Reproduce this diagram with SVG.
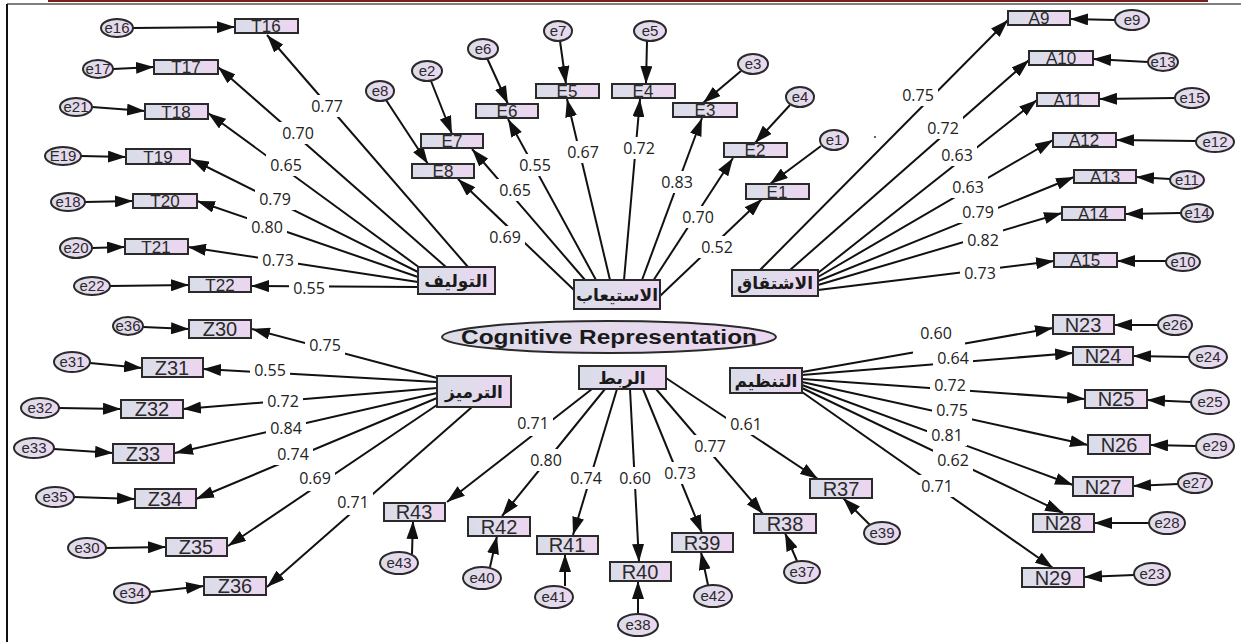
<svg xmlns="http://www.w3.org/2000/svg" width="1241" height="642" viewBox="0 0 1241 642">
<defs>
<linearGradient id="gb" x1="0" y1="0" x2="1" y2="0"><stop offset="0" stop-color="#d9dce9"/><stop offset="0.45" stop-color="#e1dcec"/><stop offset="1" stop-color="#edd5f0"/></linearGradient>
<linearGradient id="ge" x1="0" y1="0" x2="1" y2="0"><stop offset="0" stop-color="#dcdde9"/><stop offset="1" stop-color="#ecd7f0"/></linearGradient>
<marker id="ah" viewBox="0 0 18 12" refX="18" refY="6" markerWidth="18" markerHeight="12" markerUnits="userSpaceOnUse" orient="auto"><path d="M0,0L18,6L0,12z" fill="#111"/></marker>
<style>
.b{stroke:#2a2a2a;stroke-width:2;fill:url(#gb)}
.e{stroke:#2a2a2a;stroke-width:2;fill:url(#ge)}
.t{font-family:"Liberation Sans",Arial,sans-serif;font-size:17px;fill:#2a2a2a;text-anchor:middle}
.t2{font-family:"Liberation Sans",Arial,sans-serif;font-size:20px;fill:#2a2a2a;text-anchor:middle}
.et{font-family:"Liberation Sans",Arial,sans-serif;font-size:15px;fill:#2a2a2a;text-anchor:middle}
.fa{font-family:"DejaVu Sans","Noto Sans",sans-serif;font-size:17px;font-weight:bold;fill:#1a1a1a;text-anchor:middle}
.cr{font-family:"Liberation Sans",Arial,sans-serif;font-size:20px;font-weight:bold;fill:#1a1a1a;text-anchor:middle}
.c line,.c path{stroke:#111;stroke-width:2;fill:none;marker-end:url(#ah)}
.lb rect{fill:#fff}
.lb text{font-family:"Open Sans","Liberation Sans",sans-serif;font-size:16px;fill:#222;text-anchor:middle}
</style>
</defs>
<rect width="1241" height="642" fill="#fff"/>
<g id="frame">
<rect x="48" y="0" width="1160" height="2" fill="#7a1f1f"/>
<line x1="7" y1="4" x2="1241" y2="4" stroke="#555" stroke-width="1.5"/>
<line x1="7" y1="4" x2="7" y2="642" stroke="#111" stroke-width="2"/>
</g>
<g id="connectors" class="c">
<line x1="468" y1="267" x2="267" y2="35"/>
<line x1="446" y1="267" x2="218" y2="67"/>
<line x1="420" y1="268" x2="208" y2="113"/>
<line x1="418" y1="272" x2="191" y2="159"/>
<line x1="418" y1="277" x2="197" y2="201"/>
<line x1="418" y1="282" x2="188" y2="247"/>
<line x1="418" y1="287" x2="251" y2="286"/>
<line x1="133" y1="28" x2="235" y2="27"/>
<line x1="113" y1="69" x2="154" y2="67"/>
<line x1="92" y1="107" x2="145" y2="111"/>
<line x1="81" y1="156" x2="126" y2="157"/>
<line x1="85" y1="202" x2="133" y2="201"/>
<line x1="92" y1="248" x2="125" y2="247"/>
<line x1="110" y1="286" x2="189" y2="285"/>
<line x1="574" y1="290" x2="458" y2="179"/>
<line x1="585" y1="280" x2="472" y2="149"/>
<line x1="596" y1="280" x2="508" y2="119"/>
<line x1="610" y1="280" x2="567" y2="99"/>
<line x1="624" y1="280" x2="640" y2="99"/>
<line x1="642" y1="280" x2="702" y2="118"/>
<line x1="653" y1="281" x2="733" y2="158"/>
<line x1="660" y1="296" x2="762" y2="199"/>
<line x1="431" y1="81" x2="452" y2="134"/>
<line x1="386" y1="100" x2="428" y2="164"/>
<line x1="487" y1="58" x2="508" y2="104"/>
<line x1="560" y1="41" x2="566" y2="84"/>
<line x1="647" y1="41" x2="646" y2="84"/>
<line x1="741" y1="71" x2="703" y2="103"/>
<line x1="790" y1="105" x2="755" y2="143"/>
<line x1="821" y1="146" x2="770" y2="184"/>
<line x1="760" y1="270" x2="1008" y2="20"/>
<line x1="790" y1="270" x2="1029" y2="60"/>
<line x1="818" y1="273" x2="1037" y2="100"/>
<line x1="818" y1="277" x2="1053" y2="140"/>
<line x1="818" y1="281" x2="1074" y2="177"/>
<line x1="818" y1="285" x2="1062" y2="213"/>
<line x1="818" y1="290" x2="1054" y2="261"/>
<line x1="1115" y1="20" x2="1070" y2="19"/>
<line x1="1148" y1="62" x2="1093" y2="59"/>
<line x1="1175" y1="98" x2="1099" y2="99"/>
<line x1="1196" y1="141" x2="1116" y2="140"/>
<line x1="1170" y1="179" x2="1136" y2="177"/>
<line x1="1181" y1="213" x2="1125" y2="214"/>
<line x1="1166" y1="261" x2="1117" y2="261"/>
<line x1="437" y1="378" x2="252" y2="329"/>
<line x1="437" y1="382" x2="203" y2="369"/>
<line x1="437" y1="388" x2="183" y2="409"/>
<line x1="437" y1="393" x2="175" y2="453"/>
<line x1="437" y1="398" x2="196" y2="499"/>
<line x1="437" y1="405" x2="228" y2="546"/>
<line x1="472" y1="407" x2="267" y2="587"/>
<line x1="143" y1="327" x2="189" y2="329"/>
<line x1="90" y1="363" x2="142" y2="368"/>
<line x1="59" y1="408" x2="121" y2="409"/>
<line x1="54" y1="449" x2="113" y2="453"/>
<line x1="74" y1="497" x2="135" y2="499"/>
<line x1="106" y1="548" x2="166" y2="547"/>
<line x1="150" y1="592" x2="204" y2="586"/>
<line x1="592" y1="389" x2="447" y2="502"/>
<line x1="605" y1="389" x2="502" y2="516"/>
<line x1="617" y1="389" x2="573" y2="535"/>
<line x1="630" y1="389" x2="639" y2="562"/>
<line x1="643" y1="389" x2="702" y2="533"/>
<line x1="656" y1="389" x2="763" y2="514"/>
<line x1="666" y1="378" x2="818" y2="479"/>
<line x1="412" y1="554" x2="413" y2="521"/>
<line x1="490" y1="567" x2="497" y2="536"/>
<line x1="565" y1="586" x2="565" y2="554"/>
<line x1="638" y1="613" x2="638" y2="581"/>
<line x1="708" y1="585" x2="701" y2="552"/>
<line x1="797" y1="561" x2="785" y2="533"/>
<line x1="870" y1="525" x2="843" y2="498"/>
<path d="M802,372L913,352.5M965,343.4L1053,328"/>
<line x1="802" y1="375" x2="1073" y2="353"/>
<line x1="802" y1="379" x2="1085" y2="399"/>
<line x1="802" y1="382" x2="1088" y2="445"/>
<line x1="802" y1="385" x2="1073" y2="485"/>
<line x1="802" y1="388" x2="1063" y2="513"/>
<line x1="802" y1="392" x2="1053" y2="568"/>
<line x1="1158" y1="325" x2="1114" y2="325"/>
<line x1="1189" y1="357" x2="1133" y2="356"/>
<line x1="1191" y1="402" x2="1147" y2="400"/>
<line x1="1196" y1="446" x2="1150" y2="445"/>
<line x1="1178" y1="484" x2="1133" y2="486"/>
<line x1="1149" y1="523" x2="1094" y2="523"/>
<line x1="1134" y1="575" x2="1084" y2="577"/>
</g>
<g id="labels" class="lb">
<g><rect x="307" y="95" width="40" height="22"/><text x="327" y="112">0.77</text></g>
<g><rect x="278" y="122" width="40" height="22"/><text x="298" y="139">0.70</text></g>
<g><rect x="266" y="154" width="40" height="22"/><text x="286" y="171">0.65</text></g>
<g><rect x="255" y="188" width="40" height="22"/><text x="275" y="205">0.79</text></g>
<g><rect x="247" y="216" width="40" height="22"/><text x="267" y="233">0.80</text></g>
<g><rect x="258" y="249" width="40" height="22"/><text x="278" y="266">0.73</text></g>
<g><rect x="289" y="277" width="40" height="22"/><text x="309" y="294">0.55</text></g>
<g><rect x="485" y="226" width="40" height="22"/><text x="505" y="243">0.69</text></g>
<g><rect x="495" y="179" width="40" height="22"/><text x="515" y="196">0.65</text></g>
<g><rect x="515" y="154" width="40" height="22"/><text x="535" y="171">0.55</text></g>
<g><rect x="563" y="141" width="40" height="22"/><text x="583" y="158">0.67</text></g>
<g><rect x="619" y="137" width="40" height="22"/><text x="639" y="154">0.72</text></g>
<g><rect x="657" y="171" width="40" height="22"/><text x="677" y="188">0.83</text></g>
<g><rect x="678" y="206" width="40" height="22"/><text x="698" y="223">0.70</text></g>
<g><rect x="697" y="236" width="40" height="22"/><text x="717" y="253">0.52</text></g>
<g><rect x="898" y="84" width="40" height="22"/><text x="918" y="101">0.75</text></g>
<g><rect x="923" y="117" width="40" height="22"/><text x="943" y="134">0.72</text></g>
<g><rect x="937" y="144" width="40" height="22"/><text x="957" y="161">0.63</text></g>
<g><rect x="948" y="176" width="40" height="22"/><text x="968" y="193">0.63</text></g>
<g><rect x="958" y="201" width="40" height="22"/><text x="978" y="218">0.79</text></g>
<g><rect x="963" y="229" width="40" height="22"/><text x="983" y="246">0.82</text></g>
<g><rect x="960" y="262" width="40" height="22"/><text x="980" y="279">0.73</text></g>
<g><rect x="305" y="334" width="40" height="22"/><text x="325" y="351">0.75</text></g>
<g><rect x="250" y="359" width="40" height="22"/><text x="270" y="376">0.55</text></g>
<g><rect x="263" y="390" width="40" height="22"/><text x="283" y="407">0.72</text></g>
<g><rect x="266" y="417" width="40" height="22"/><text x="286" y="434">0.84</text></g>
<g><rect x="273" y="443" width="40" height="22"/><text x="293" y="460">0.74</text></g>
<g><rect x="295" y="469" width="40" height="22"/><text x="315" y="484">0.69</text></g>
<g><rect x="333" y="493" width="40" height="22"/><text x="353" y="508">0.71</text></g>
<g><rect x="513" y="414" width="40" height="22"/><text x="533" y="429">0.71</text></g>
<g><rect x="526" y="449" width="40" height="22"/><text x="546" y="466">0.80</text></g>
<g><rect x="566" y="467" width="40" height="22"/><text x="586" y="484">0.74</text></g>
<g><rect x="615" y="467" width="40" height="22"/><text x="635" y="484">0.60</text></g>
<g><rect x="660" y="462" width="40" height="22"/><text x="680" y="479">0.73</text></g>
<g><rect x="690" y="435" width="40" height="22"/><text x="710" y="452">0.77</text></g>
<g><rect x="726" y="413" width="40" height="22"/><text x="746" y="430">0.61</text></g>
<g><text x="936" y="339">0.60</text></g>
<g><rect x="933" y="347" width="40" height="22"/><text x="953" y="364">0.64</text></g>
<g><rect x="930" y="374" width="40" height="22"/><text x="950" y="391">0.72</text></g>
<g><rect x="932" y="399" width="40" height="22"/><text x="952" y="416">0.75</text></g>
<g><rect x="927" y="424" width="40" height="22"/><text x="947" y="441">0.81</text></g>
<g><rect x="933" y="449" width="40" height="22"/><text x="953" y="466">0.62</text></g>
<g><rect x="917" y="475" width="40" height="22"/><text x="937" y="492">0.71</text></g>
</g>
<circle cx="875" cy="137" r="1" fill="#333"/>
<g id="latent">
<g id="cognitive"><ellipse class="e" cx="609" cy="337" rx="167" ry="16"/><text class="cr" x="609" y="344" textLength="296" lengthAdjust="spacingAndGlyphs">Cognitive Representation</text></g>
<g id="f-tawlif"><rect class="b" x="418" y="267" width="77" height="27"/><text class="fa" x="456" y="287">التوليف</text></g>
<g id="f-istiab"><rect class="b" x="574" y="280" width="86" height="29"/><text class="fa" x="617" y="301">الاستيعاب</text></g>
<g id="f-ishtiqaq"><rect class="b" x="732" y="270" width="86" height="26"/><text class="fa" x="775" y="289">الاشتقاق</text></g>
<g id="f-tarmiz"><rect class="b" x="437" y="376" width="74" height="31"/><text class="fa" x="474" y="398">الترميز</text></g>
<g id="f-rabt"><rect class="b" x="579" y="366" width="87" height="23"/><text class="fa" x="622" y="384">الربط</text></g>
<g id="f-tanzim"><rect class="b" x="730" y="368" width="72" height="25"/><text class="fa" x="766" y="387">التنظيم</text></g>
</g>
<g id="indicators">
<g id="T16"><rect class="b" x="235" y="19" width="63" height="14"/><text class="t" x="266" y="32">T16</text></g>
<g id="T17"><rect class="b" x="154" y="60" width="64" height="14"/><text class="t" x="186" y="73">T17</text></g>
<g id="T18"><rect class="b" x="145" y="104" width="63" height="15"/><text class="t" x="176" y="118">T18</text></g>
<g id="T19"><rect class="b" x="126" y="149" width="64" height="15"/><text class="t" x="158" y="163">T19</text></g>
<g id="T20"><rect class="b" x="133" y="194" width="64" height="14"/><text class="t" x="165" y="207">T20</text></g>
<g id="T21"><rect class="b" x="125" y="239" width="63" height="15"/><text class="t" x="156" y="253">T21</text></g>
<g id="T22"><rect class="b" x="189" y="277" width="62" height="15"/><text class="t" x="220" y="291">T22</text></g>
<g id="E7"><rect class="b" x="421" y="134" width="62" height="14"/><text class="t" x="452" y="147">E7</text></g>
<g id="E8"><rect class="b" x="412" y="164" width="62" height="14"/><text class="t" x="443" y="177">E8</text></g>
<g id="E6"><rect class="b" x="476" y="104" width="62" height="14"/><text class="t" x="507" y="117">E6</text></g>
<g id="E5"><rect class="b" x="536" y="84" width="63" height="14"/><text class="t" x="567" y="97">E5</text></g>
<g id="E4"><rect class="b" x="612" y="84" width="63" height="14"/><text class="t" x="643" y="97">E4</text></g>
<g id="E3"><rect class="b" x="673" y="103" width="64" height="14"/><text class="t" x="705" y="116">E3</text></g>
<g id="E2"><rect class="b" x="724" y="143" width="63" height="14"/><text class="t" x="755" y="156">E2</text></g>
<g id="E1"><rect class="b" x="746" y="184" width="63" height="15"/><text class="t" x="777" y="198">E1</text></g>
<g id="A9"><rect class="b" x="1008" y="11" width="62" height="14"/><text class="t" x="1039" y="24">A9</text></g>
<g id="A10"><rect class="b" x="1029" y="51" width="64" height="14"/><text class="t" x="1061" y="64">A10</text></g>
<g id="A11"><rect class="b" x="1037" y="93" width="62" height="13"/><text class="t" x="1068" y="106">A11</text></g>
<g id="A12"><rect class="b" x="1053" y="133" width="63" height="14"/><text class="t" x="1084" y="146">A12</text></g>
<g id="A13"><rect class="b" x="1074" y="170" width="62" height="13"/><text class="t" x="1105" y="183">A13</text></g>
<g id="A14"><rect class="b" x="1062" y="207" width="63" height="13"/><text class="t" x="1093" y="220">A14</text></g>
<g id="A15"><rect class="b" x="1054" y="253" width="63" height="14"/><text class="t" x="1085" y="266">A15</text></g>
<g id="Z30"><rect class="b" x="189" y="320" width="62" height="18"/><text class="t2" x="220" y="336">Z30</text></g>
<g id="Z31"><rect class="b" x="142" y="358" width="61" height="19"/><text class="t2" x="172" y="375">Z31</text></g>
<g id="Z32"><rect class="b" x="121" y="400" width="62" height="18"/><text class="t2" x="152" y="416">Z32</text></g>
<g id="Z33"><rect class="b" x="113" y="444" width="61" height="19"/><text class="t2" x="143" y="461">Z33</text></g>
<g id="Z34"><rect class="b" x="135" y="489" width="61" height="19"/><text class="t2" x="165" y="506">Z34</text></g>
<g id="Z35"><rect class="b" x="166" y="538" width="61" height="18"/><text class="t2" x="196" y="554">Z35</text></g>
<g id="Z36"><rect class="b" x="204" y="577" width="62" height="18"/><text class="t2" x="235" y="593">Z36</text></g>
<g id="R43"><rect class="b" x="384" y="503" width="61" height="18"/><text class="t2" x="414" y="519">R43</text></g>
<g id="R42"><rect class="b" x="468" y="517" width="62" height="19"/><text class="t2" x="499" y="534">R42</text></g>
<g id="R41"><rect class="b" x="537" y="536" width="61" height="18"/><text class="t2" x="567" y="552">R41</text></g>
<g id="R40"><rect class="b" x="610" y="562" width="61" height="19"/><text class="t2" x="640" y="579">R40</text></g>
<g id="R39"><rect class="b" x="672" y="533" width="61" height="19"/><text class="t2" x="702" y="550">R39</text></g>
<g id="R38"><rect class="b" x="754" y="514" width="62" height="19"/><text class="t2" x="785" y="531">R38</text></g>
<g id="R37"><rect class="b" x="810" y="479" width="62" height="19"/><text class="t2" x="841" y="496">R37</text></g>
<g id="N23"><rect class="b" x="1053" y="315" width="61" height="19"/><text class="t2" x="1083" y="332">N23</text></g>
<g id="N24"><rect class="b" x="1073" y="347" width="60" height="18"/><text class="t2" x="1103" y="363">N24</text></g>
<g id="N25"><rect class="b" x="1085" y="390" width="62" height="18"/><text class="t2" x="1116" y="406">N25</text></g>
<g id="N26"><rect class="b" x="1088" y="435" width="62" height="19"/><text class="t2" x="1119" y="452">N26</text></g>
<g id="N27"><rect class="b" x="1073" y="477" width="60" height="19"/><text class="t2" x="1103" y="494">N27</text></g>
<g id="N28"><rect class="b" x="1033" y="514" width="61" height="18"/><text class="t2" x="1063" y="530">N28</text></g>
<g id="N29"><rect class="b" x="1022" y="568" width="62" height="19"/><text class="t2" x="1053" y="585">N29</text></g>
</g>
<g id="errors">
<g id="e16"><ellipse class="e" cx="117" cy="28" rx="16" ry="9"/><text class="et" x="117" y="33">e16</text></g>
<g id="e17"><ellipse class="e" cx="98" cy="69" rx="15" ry="9"/><text class="et" x="98" y="74">e17</text></g>
<g id="e21"><ellipse class="e" cx="76" cy="107" rx="16" ry="9"/><text class="et" x="76" y="112">e21</text></g>
<g id="E19"><ellipse class="e" cx="63" cy="156" rx="18" ry="9"/><text class="et" x="63" y="161">E19</text></g>
<g id="e18"><ellipse class="e" cx="68" cy="202" rx="17" ry="9"/><text class="et" x="68" y="207">e18</text></g>
<g id="e20"><ellipse class="e" cx="76" cy="248" rx="16" ry="10"/><text class="et" x="76" y="253">e20</text></g>
<g id="e22"><ellipse class="e" cx="92" cy="286" rx="18" ry="9"/><text class="et" x="92" y="291">e22</text></g>
<g id="e2"><ellipse class="e" cx="427" cy="71" rx="15" ry="10"/><text class="et" x="427" y="76">e2</text></g>
<g id="e8"><ellipse class="e" cx="380" cy="91" rx="14" ry="10"/><text class="et" x="380" y="96">e8</text></g>
<g id="e6"><ellipse class="e" cx="483" cy="49" rx="15" ry="10"/><text class="et" x="483" y="54">e6</text></g>
<g id="e7"><ellipse class="e" cx="558" cy="31" rx="14" ry="10"/><text class="et" x="558" y="36">e7</text></g>
<g id="e5"><ellipse class="e" cx="650" cy="31" rx="16" ry="10"/><text class="et" x="650" y="36">e5</text></g>
<g id="e3"><ellipse class="e" cx="753" cy="64" rx="15" ry="10"/><text class="et" x="753" y="69">e3</text></g>
<g id="e4"><ellipse class="e" cx="800" cy="97" rx="14" ry="10"/><text class="et" x="800" y="102">e4</text></g>
<g id="e1"><ellipse class="e" cx="834" cy="140" rx="14" ry="10"/><text class="et" x="834" y="145">e1</text></g>
<g id="e9"><ellipse class="e" cx="1132" cy="20" rx="17" ry="10"/><text class="et" x="1132" y="25">e9</text></g>
<g id="e13"><ellipse class="e" cx="1163" cy="62" rx="15" ry="9"/><text class="et" x="1163" y="67">e13</text></g>
<g id="e15"><ellipse class="e" cx="1192" cy="98" rx="17" ry="10"/><text class="et" x="1192" y="103">e15</text></g>
<g id="e12"><ellipse class="e" cx="1215" cy="142" rx="19" ry="10"/><text class="et" x="1215" y="147">e12</text></g>
<g id="e11"><ellipse class="e" cx="1187" cy="180" rx="17" ry="9"/><text class="et" x="1187" y="185">e11</text></g>
<g id="e14"><ellipse class="e" cx="1197" cy="213" rx="16" ry="9"/><text class="et" x="1197" y="218">e14</text></g>
<g id="e10"><ellipse class="e" cx="1183" cy="262" rx="17" ry="9"/><text class="et" x="1183" y="267">e10</text></g>
<g id="e36"><ellipse class="e" cx="128" cy="326" rx="15" ry="9"/><text class="et" x="128" y="331">e36</text></g>
<g id="e31"><ellipse class="e" cx="72" cy="362" rx="18" ry="10"/><text class="et" x="72" y="367">e31</text></g>
<g id="e32"><ellipse class="e" cx="40" cy="408" rx="19" ry="10"/><text class="et" x="40" y="413">e32</text></g>
<g id="e33"><ellipse class="e" cx="34" cy="448" rx="20" ry="10"/><text class="et" x="34" y="453">e33</text></g>
<g id="e35"><ellipse class="e" cx="55" cy="497" rx="19" ry="10"/><text class="et" x="55" y="502">e35</text></g>
<g id="e30"><ellipse class="e" cx="87" cy="548" rx="19" ry="10"/><text class="et" x="87" y="553">e30</text></g>
<g id="e34"><ellipse class="e" cx="132" cy="593" rx="18" ry="10"/><text class="et" x="132" y="598">e34</text></g>
<g id="e43"><ellipse class="e" cx="399" cy="563" rx="19" ry="11"/><text class="et" x="399" y="568">e43</text></g>
<g id="e40"><ellipse class="e" cx="482" cy="578" rx="19" ry="11"/><text class="et" x="482" y="583">e40</text></g>
<g id="e41"><ellipse class="e" cx="554" cy="597" rx="19" ry="11"/><text class="et" x="554" y="602">e41</text></g>
<g id="e38"><ellipse class="e" cx="638" cy="625" rx="20" ry="11"/><text class="et" x="638" y="630">e38</text></g>
<g id="e42"><ellipse class="e" cx="713" cy="596" rx="19" ry="11"/><text class="et" x="713" y="601">e42</text></g>
<g id="e37"><ellipse class="e" cx="802" cy="572" rx="18" ry="11"/><text class="et" x="802" y="577">e37</text></g>
<g id="e39"><ellipse class="e" cx="882" cy="533" rx="18" ry="11"/><text class="et" x="882" y="538">e39</text></g>
<g id="e26"><ellipse class="e" cx="1175" cy="325" rx="17" ry="10"/><text class="et" x="1175" y="330">e26</text></g>
<g id="e24"><ellipse class="e" cx="1208" cy="357" rx="19" ry="11"/><text class="et" x="1208" y="362">e24</text></g>
<g id="e25"><ellipse class="e" cx="1210" cy="402" rx="19" ry="12"/><text class="et" x="1210" y="407">e25</text></g>
<g id="e29"><ellipse class="e" cx="1215" cy="446" rx="19" ry="12"/><text class="et" x="1215" y="451">e29</text></g>
<g id="e27"><ellipse class="e" cx="1195" cy="483" rx="17" ry="10"/><text class="et" x="1195" y="488">e27</text></g>
<g id="e28"><ellipse class="e" cx="1167" cy="523" rx="18" ry="11"/><text class="et" x="1167" y="528">e28</text></g>
<g id="e23"><ellipse class="e" cx="1152" cy="574" rx="18" ry="11"/><text class="et" x="1152" y="579">e23</text></g>
</g>
</svg>
